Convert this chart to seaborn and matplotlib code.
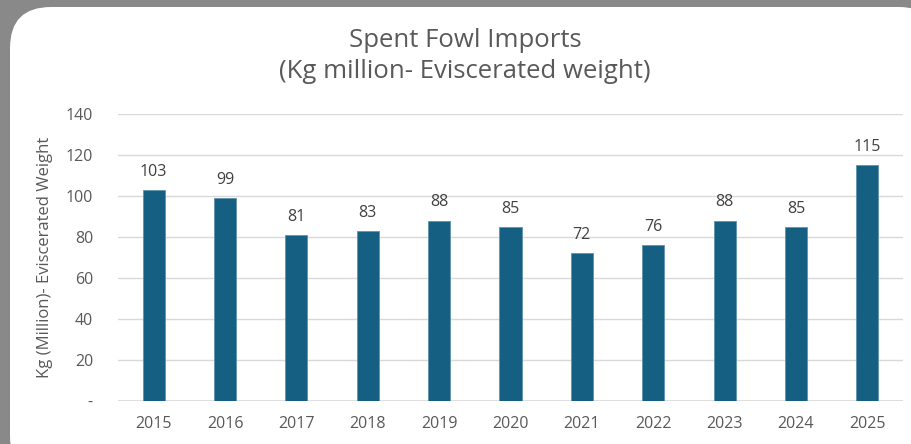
import pandas as pd
import matplotlib.pyplot as plt
import seaborn as sns
from matplotlib.patches import FancyBboxPatch

# data
years = ['2015', '2016', '2017', '2018', '2019', '2020', '2021', '2022', '2023', '2024', '2025']
imports = [103, 99, 81, 83, 88, 85, 72, 76, 88, 85, 115]
y_ticks = [0, 20, 40, 60, 80, 100, 120, 140]
y_tick_labels = ['-', '20', '40', '60', '80', '100', '120', '140']

df = pd.DataFrame({'Year': years, 'Imports': imports})

sns.set_style('white')
plt.rcParams['font.family'] = ['Open Sans', 'DejaVu Sans']

fig = plt.figure(figsize=(9.12, 4.44), dpi=100)
fig.patch.set_facecolor('#898989')

# white rounded card behind the chart
card = FancyBboxPatch((10 / 912, -33 / 444), 930 / 912, 470 / 444,
                      boxstyle='round,pad=0,rounding_size=0.045',
                      transform=fig.transFigure, facecolor='white',
                      edgecolor='none', zorder=-5, mutation_aspect=912 / 444)
fig.patches.append(card)

ax = fig.add_axes([118 / 912, 1 - 401 / 444, 785 / 912, 287 / 444])
ax.set_facecolor('none')
ax.set_zorder(2)

sns.barplot(data=df, x='Year', y='Imports', color='#156082', width=0.31,
            saturation=1, edgecolor='#5f93ab', linewidth=0.6, ax=ax, zorder=3)

for i, v in enumerate(imports):
    ax.text(i, v + 5, str(v), ha='center', va='bottom', fontsize=11.5, color='#404040')

ax.set_ylim(0, 140)
ax.set_yticks(y_ticks)
ax.set_yticklabels(y_tick_labels)
ax.yaxis.grid(True, color='#d9d9d9', linewidth=1)
ax.set_axisbelow(True)
for s in ax.spines.values():
    s.set_visible(False)
ax.axhline(0, color='#d9d9d9', linewidth=1.2, zorder=2)
ax.tick_params(axis='both', length=0, labelsize=11.5, labelcolor='#595959')
ax.tick_params(axis='x', pad=11)
ax.tick_params(axis='y', pad=18)
ax.set_xlabel('')
ax.set_ylabel('Kg (Million)- Eviscerated Weight', fontsize=12, color='#595959', labelpad=9)

fig.text(465 / 912, 1 - 56 / 444, 'Spent Fowl Imports\n(Kg million- Eviscerated weight)',
         ha='center', va='center', fontsize=18.5, color='#595959', linespacing=1.32)

fig.savefig('out.png', dpi=100, facecolor=fig.get_facecolor())
